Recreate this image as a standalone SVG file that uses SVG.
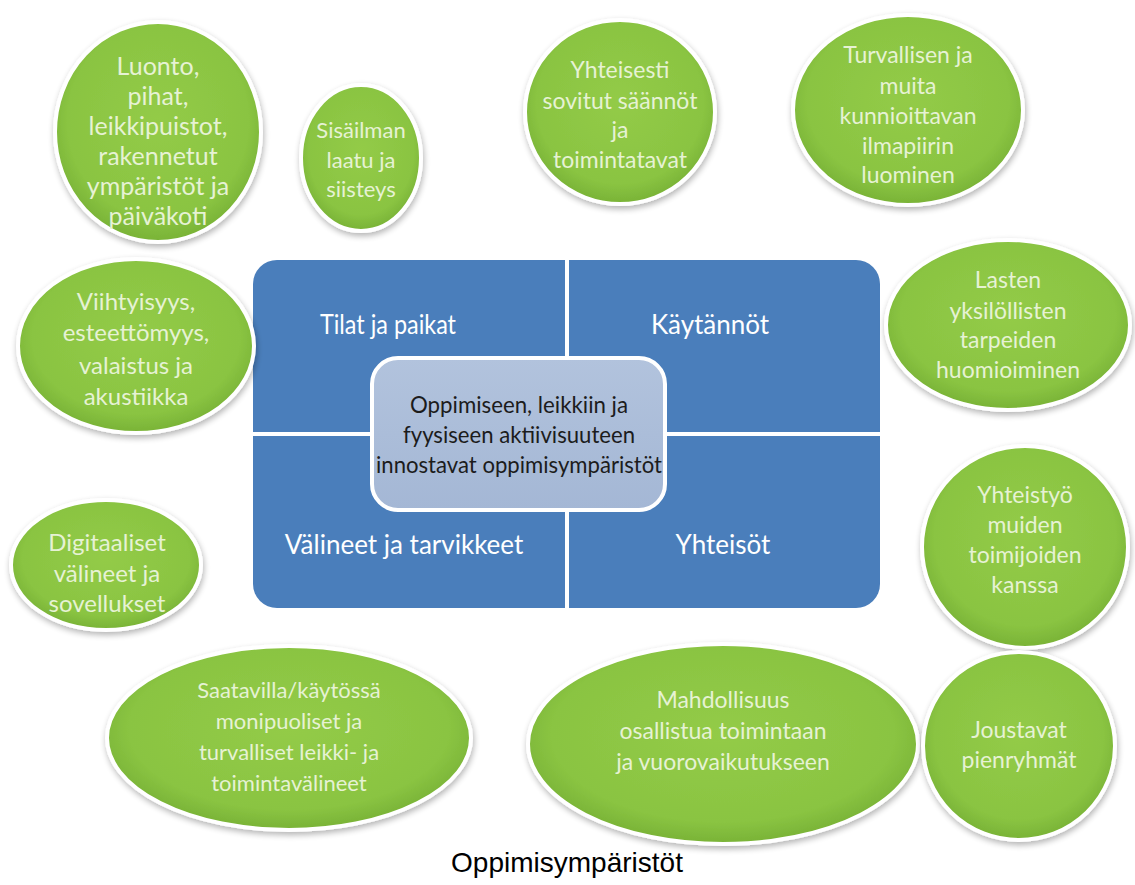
<svg xmlns="http://www.w3.org/2000/svg" width="1135" height="885" viewBox="0 0 1135 885">
<defs>
<radialGradient id="g" cx="50%" cy="45%" r="55%">
<stop offset="0" stop-color="#93cb47"/>
<stop offset="0.8" stop-color="#8ac442"/>
<stop offset="1" stop-color="#78b236"/>
</radialGradient>
<linearGradient id="cb" x1="0" y1="0" x2="0" y2="1">
<stop offset="0" stop-color="#b2c3dd"/>
<stop offset="1" stop-color="#a4b7d5"/>
</linearGradient>
<filter id="sh" x="-20%" y="-20%" width="140%" height="140%">
<feGaussianBlur in="SourceAlpha" stdDeviation="3"/>
<feOffset dx="1" dy="3"/>
<feComponentTransfer><feFuncA type="linear" slope="0.3"/></feComponentTransfer>
<feMerge><feMergeNode/><feMergeNode in="SourceGraphic"/></feMerge>
</filter>
</defs>
<style>
.e{fill:url(#g);stroke:#ffffff;stroke-width:4;filter:url(#sh)}
.t{font-family:Lato,"Open Sans",sans-serif;fill:#e6f2d4;text-anchor:middle}
.q{font-family:Lato,"Open Sans",sans-serif;fill:#ffffff;font-size:26px;text-anchor:middle}
.c{font-family:Lato,"Open Sans",sans-serif;fill:#1c1c1c;font-size:24px;text-anchor:middle}
.cap{font-family:"Liberation Sans",Arial,sans-serif;fill:#000;font-size:28px;text-anchor:middle}
</style>
<rect width="1135" height="885" fill="#ffffff"/>
<g id="center">
<rect x="253" y="260" width="627" height="348" rx="24" fill="#4a7ebb"/>
<line x1="567" y1="260" x2="567" y2="608" stroke="#ffffff" stroke-width="4"/>
<line x1="253" y1="434" x2="880" y2="434" stroke="#ffffff" stroke-width="4"/>
<text class="q" x="388" y="334" textLength="136" lengthAdjust="spacingAndGlyphs">Tilat ja paikat</text>
<text class="q" x="710" y="334">Käytännöt</text>
<text class="q" x="404" y="554">Välineet ja tarvikkeet</text>
<text class="q" x="723" y="554">Yhteisöt</text>
<rect x="372" y="358" width="293" height="152" rx="26" fill="url(#cb)" stroke="#ffffff" stroke-width="4"/>
<text class="c" x="519" y="413" textLength="218" lengthAdjust="spacingAndGlyphs">Oppimiseen, leikkiin ja</text>
<text class="c" x="519" y="443" textLength="232" lengthAdjust="spacingAndGlyphs">fyysiseen aktiivisuuteen</text>
<text class="c" x="519" y="473" textLength="286" lengthAdjust="spacingAndGlyphs">innostavat oppimisympäristöt</text>
</g>
<g id="n1"><ellipse class="e" cx="158" cy="132" rx="103" ry="110"/>
<text class="t" font-size="25"><tspan x="158" y="75">Luonto,</tspan><tspan x="158" y="105">pihat,</tspan><tspan x="158" y="135">leikkipuistot,</tspan><tspan x="158" y="165">rakennetut</tspan><tspan x="158" y="195">ympäristöt ja</tspan><tspan x="158" y="225">päiväkoti</tspan></text></g>
<g id="n2"><ellipse class="e" cx="361" cy="158" rx="60" ry="73"/>
<text class="t" font-size="22"><tspan x="361" y="138">Sisäilman</tspan><tspan x="361" y="168">laatu ja</tspan><tspan x="361" y="197">siisteys</tspan></text></g>
<g id="n3"><ellipse class="e" cx="620" cy="112" rx="95" ry="92"/>
<text class="t" font-size="23"><tspan x="620" y="78">Yhteisesti</tspan><tspan x="620" y="109">sovitut säännöt</tspan><tspan x="620" y="138">ja</tspan><tspan x="620" y="168">toimintatavat</tspan></text></g>
<g id="n4"><ellipse class="e" cx="908" cy="110" rx="115" ry="95"/>
<text class="t" font-size="23"><tspan x="908" y="63">Turvallisen ja</tspan><tspan x="908" y="94">muita</tspan><tspan x="908" y="124">kunnioittavan</tspan><tspan x="908" y="154">ilmapiirin</tspan><tspan x="908" y="183">luominen</tspan></text></g>
<g id="n5"><ellipse class="e" cx="136" cy="346" rx="118" ry="87"/>
<text class="t" font-size="24"><tspan x="136" y="310">Viihtyisyys,</tspan><tspan x="136" y="341">esteettömyys,</tspan><tspan x="136" y="374">valaistus ja</tspan><tspan x="136" y="405">akustiikka</tspan></text></g>
<g id="n6"><ellipse class="e" cx="1008" cy="325" rx="122" ry="85"/>
<text class="t" font-size="23"><tspan x="1008" y="288">Lasten</tspan><tspan x="1008" y="319">yksilöllisten</tspan><tspan x="1008" y="348">tarpeiden</tspan><tspan x="1008" y="378">huomioiminen</tspan></text></g>
<g id="n7"><ellipse class="e" cx="106" cy="565" rx="95" ry="65"/>
<text class="t" font-size="24"><tspan x="107" y="551">Digitaaliset</tspan><tspan x="107" y="582">välineet ja</tspan><tspan x="107" y="612">sovellukset</tspan></text></g>
<g id="n8"><ellipse class="e" cx="1025" cy="547" rx="103" ry="101"/>
<text class="t" font-size="23"><tspan x="1025" y="503">Yhteistyö</tspan><tspan x="1025" y="533">muiden</tspan><tspan x="1025" y="563">toimijoiden</tspan><tspan x="1025" y="593">kanssa</tspan></text></g>
<g id="n9"><ellipse class="e" cx="289" cy="738" rx="182" ry="92"/>
<text class="t" font-size="22"><tspan x="289" y="698">Saatavilla/käytössä</tspan><tspan x="289" y="729">monipuoliset ja</tspan><tspan x="289" y="760">turvalliset leikki- ja</tspan><tspan x="289" y="791">toimintavälineet</tspan></text></g>
<g id="n10"><ellipse class="e" cx="723" cy="744" rx="195" ry="100"/>
<text class="t" font-size="23"><tspan x="723" y="708">Mahdollisuus</tspan><tspan x="723" y="739">osallistua toimintaan</tspan><tspan x="723" y="770">ja vuorovaikutukseen</tspan></text></g>
<g id="n11"><ellipse class="e" cx="1019" cy="746" rx="96" ry="94"/>
<text class="t" font-size="23"><tspan x="1019" y="738">Joustavat</tspan><tspan x="1019" y="768">pienryhmät</tspan></text></g>
<text class="cap" x="567" y="872">Oppimisympäristöt</text>
</svg>
